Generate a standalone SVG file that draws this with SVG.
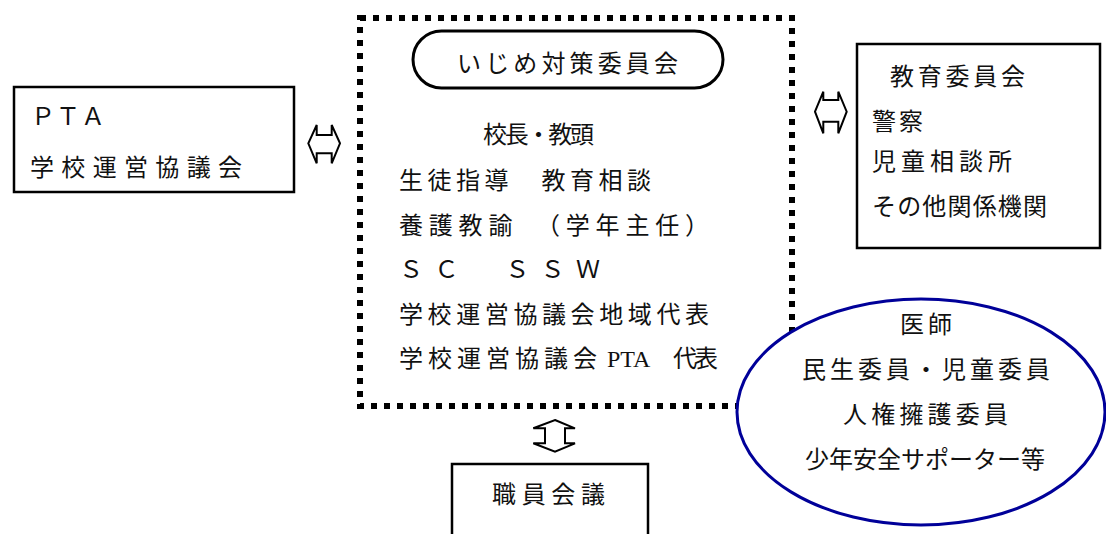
<svg xmlns="http://www.w3.org/2000/svg" width="1106" height="534" viewBox="0 0 1106 534">
<style>
text{font-family:"Liberation Serif","Noto Sans CJK JP",serif;font-size:24px;fill:#111;}
.box{fill:#fff;stroke:#000;stroke-width:2.5;}
.arr{fill:none;stroke:#000;stroke-width:2;stroke-linejoin:miter;}
</style>
<rect width="1106" height="534" fill="#fff"/>
<g id="committee">
<rect x="360" y="18" width="432" height="388" fill="none" stroke="#000" stroke-width="6" stroke-dasharray="6 7"/>
<rect x="413" y="31" width="310" height="57" rx="28.5" fill="#fff" stroke="#000" stroke-width="3"/>
<text x="457" y="72" font-size="26" textLength="221" lengthAdjust="spacing">いじめ対策委員会</text>
<text x="483" y="143" textLength="111" lengthAdjust="spacing">校長・教頭</text>
<text x="399" y="189" textLength="252" lengthAdjust="spacing">生徒指導　教育相談</text>
<text x="399" y="234" textLength="310" lengthAdjust="spacing">養護教諭　（学年主任）</text>
<text x="399" y="278" textLength="201" lengthAdjust="spacing">ＳＣ　ＳＳＷ</text>
<text x="399" y="323" textLength="310" lengthAdjust="spacing">学校運営協議会地域代表</text>
<text x="399" y="367" textLength="198" lengthAdjust="spacing">学校運営協議会</text>
<text x="607" y="367" font-size="26">PTA</text>
<text x="673" y="367" textLength="45" lengthAdjust="spacing">代表</text>
</g>
<g id="pta">
<rect class="box" x="14" y="87" width="280" height="105"/>
<text x="31" y="125" textLength="74" lengthAdjust="spacing">ＰＴＡ</text>
<text x="30" y="176" textLength="212" lengthAdjust="spacing">学校運営協議会</text>
</g>
<g id="agencies">
<rect class="box" x="857" y="44" width="243" height="204"/>
<text x="890" y="85" textLength="135" lengthAdjust="spacing">教育委員会</text>
<text x="872" y="130" textLength="51" lengthAdjust="spacing">警察</text>
<text x="872" y="170" textLength="140" lengthAdjust="spacing">児童相談所</text>
<text x="872" y="215" textLength="175" lengthAdjust="spacing">その他関係機関</text>
</g>
<g id="community">
<ellipse cx="921" cy="412" rx="184" ry="113" fill="#fff" stroke="#000099" stroke-width="3"/>
<text x="900" y="333" textLength="52" lengthAdjust="spacing">医師</text>
<text x="802" y="378" textLength="248" lengthAdjust="spacing">民生委員・児童委員</text>
<text x="843" y="423" textLength="165" lengthAdjust="spacing">人権擁護委員</text>
<text x="805" y="468" textLength="240" lengthAdjust="spacing">少年安全サポーター等</text>
</g>
<g id="staff">
<rect class="box" x="452" y="464" width="196" height="80"/>
<text x="492" y="503" font-size="26" textLength="113" lengthAdjust="spacing">職員会議</text>
</g>
<g id="connectors">
<path class="arr" d="M308.3,143.3 L316.7,125 L316.7,135 L331.7,135 L331.7,125 L340,143.3 L331.7,163.3 L331.7,153.3 L316.7,153.3 L316.7,163.3 Z"/>
<path class="arr" d="M815,111.7 L823.3,91.7 L823.3,100 L838.3,100 L838.3,91.7 L846.7,111.7 L838.3,133.3 L838.3,121.7 L823.3,121.7 L823.3,133.3 Z"/>
<path class="arr" d="M555,420 L575,428.3 L565,428.3 L565,443.3 L575,443.3 L555,451.7 L533.3,443.3 L545,443.3 L545,428.3 L533.3,428.3 Z"/>
</g>
</svg>
